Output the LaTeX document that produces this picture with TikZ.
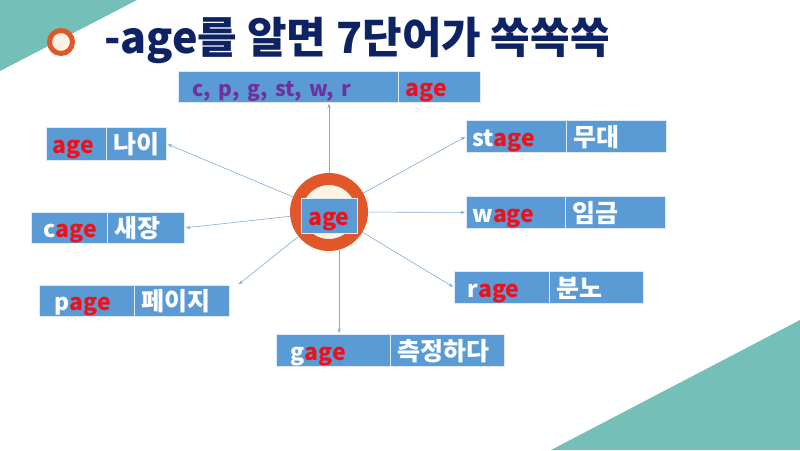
\documentclass[tikz,border=0pt]{standalone}
\usepackage{fontspec}
\setmainfont{Noto Sans CJK KR}
\usetikzlibrary{arrows.meta,calc}
\definecolor{teal}{HTML}{74BFB8}
\definecolor{navy}{HTML}{0E2363}
\definecolor{ringor}{HTML}{E2572A}
\definecolor{cream}{HTML}{FBF3E4}
\definecolor{boxblue}{HTML}{5B9BD5}
\definecolor{wred}{HTML}{F0101A}
\definecolor{wpurple}{HTML}{7030A0}
\definecolor{linkblue}{HTML}{86ACD8}
\tikzset{
  wpart/.style={rectangle, fill=boxblue, draw=white!80!boxblue, line width=0.8pt,
    anchor=north west, align=left, inner ysep=0pt, text=white,
    text height=20pt, text depth=0pt,
    font=\fontsize{23}{26}\selectfont\bfseries},
  link/.style={draw=linkblue, line width=0.6pt, -{Stealth[length=4.5pt,width=3.5pt]}, shorten >=1pt}
}
\newcommand\wbox[9]{%
  \pgfmathsetmacro\wA{#3-#2-2*#7}%
  \pgfmathsetmacro\wB{#4-#3-14}%
  \pgfmathsetmacro\wH{#6-#5}%
  \node[wpart, inner xsep=#7pt, text width=\wA pt, minimum height=\wH pt] (#1L) at (#2,#5) {#8};
  \node[wpart, inner xsep=7pt, text width=\wB pt, minimum height=\wH pt, font=\fontsize{25}{28}\selectfont\bfseries] (#1R) at (#3,#5) {#9};
}
\begin{document}
\begin{tikzpicture}[x=1pt,y=-1pt]
\fill[white] (0,0) rectangle (800,450);
\useasboundingbox (0,0) rectangle (800,450);
% decorative triangles
\fill[teal] (0,0) -- (137,0) -- (0,71) -- cycle;
\fill[teal] (551,450) -- (800,320) -- (800,450) -- cycle;
% title
\draw[ringor, line width=5pt, fill=cream] (61,42) circle (11.5);
\node[anchor=base west, inner sep=0pt, text=navy, font=\fontsize{43}{48}\selectfont\bfseries] (title) at (104,53) {-age를 알면 7단어가 쏙쏙쏙};
% word boxes
\wbox{top}{178}{398}{480}{71}{102}{14}{{\fontsize{21}{24}\selectfont\textcolor{wpurple}{c, p, g, st, w, r}}}{{\fontsize{23}{26}\selectfont\textcolor{wred}{age}}}
\wbox{na}{46}{106}{166}{127}{160}{6}{\textcolor{wred}{age}}{나이}
\wbox{sae}{31}{107}{184}{212}{243}{12}{c\textcolor{wred}{age}}{새장}
\wbox{pe}{39}{134}{229}{285}{316}{15}{p\textcolor{wred}{age}}{페이지}
\wbox{ga}{276}{390}{504}{334}{366}{14}{g\textcolor{wred}{age}}{측정하다}
\wbox{st}{466}{566}{666}{120}{152}{6}{st\textcolor{wred}{age}}{무대}
\wbox{wa}{466}{565}{665}{196}{228}{6}{w\textcolor{wred}{age}}{임금}
\wbox{ra}{454}{549}{643}{271}{303}{13}{r\textcolor{wred}{age}}{분노}
% centre
\node[circle, draw=ringor, line width=12pt, fill=cream, minimum size=66pt, inner sep=0pt] (c) at (329,212) {};
\node[rectangle, fill=boxblue, draw=white!80!boxblue, line width=0.8pt, minimum width=56pt, minimum height=35pt, inner sep=0pt, text=wred, text height=20pt, text depth=0pt, font=\fontsize{23}{26}\selectfont\bfseries] (cw) at (329,215.5) {age};
% connectors
\draw[link] (c.north) -- (c.north |- topL.south);
\draw[link] (c) -- (naR.east);
\draw[link] (c) -- (saeR.east);
\draw[link] (c) -- ([shift={(8,0)}]peR.north east);
\draw[link] (c.-75) -- (c.-75 |- gaL.north);
\draw[link] (c) -- (raL.west);
\draw[link] (c) -- (waL.west);
\draw[link] (c) -- (stL.west);
\end{tikzpicture}
\end{document}
